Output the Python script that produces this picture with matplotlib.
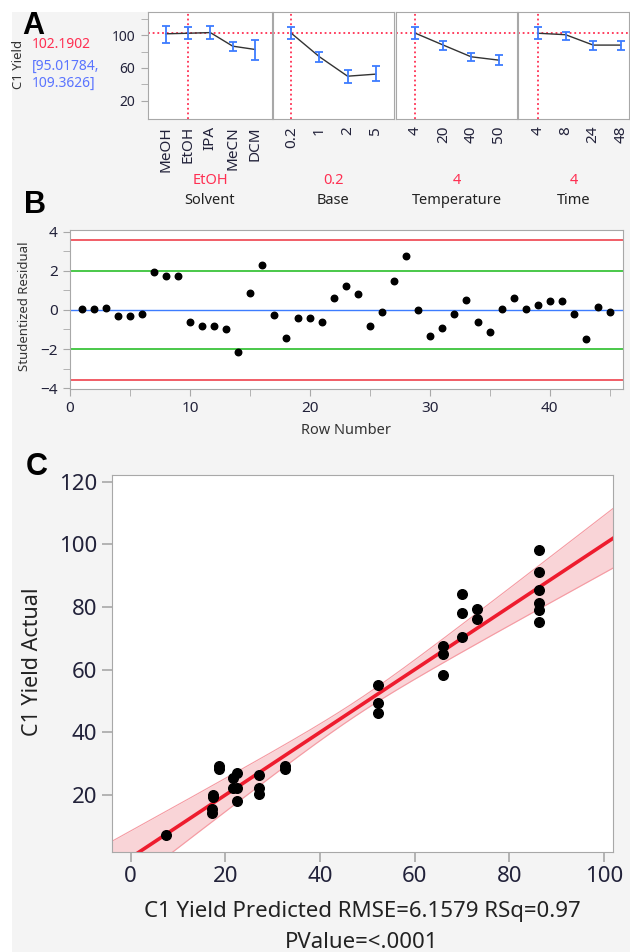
import numpy as np
import matplotlib
matplotlib.use('Agg')
import matplotlib.pyplot as plt
from matplotlib.patches import Rectangle

plt.rcParams['font.family'] = ['Noto Sans', 'DejaVu Sans']

# ---- panel A: prediction profiler ----
current_yield = 102.1902
current_ci = [95.01784, 109.3626]

solvents = ['MeOH', 'EtOH', 'IPA', 'MeCN', 'DCM']
solvent_mean = [101.5, 102.19, 103.0, 86.5, 82.5]
solvent_lo = [90.0, 95.02, 95.5, 81.0, 69.5]
solvent_hi = [111.0, 109.36, 111.0, 91.0, 94.5]

bases = ['0.2', '1', '2', '5']
base_mean = [102.19, 73.6, 50.0, 52.5]
base_lo = [95.02, 66.7, 42.0, 43.6]
base_hi = [109.36, 79.7, 57.0, 61.9]

temps = ['4', '20', '40', '50']
temp_mean = [102.19, 87.8, 73.6, 69.5]
temp_lo = [95.02, 81.7, 68.3, 63.0]
temp_hi = [109.36, 93.0, 78.5, 75.2]

times = ['4', '8', '24', '48']
time_mean = [102.19, 100.4, 87.8, 87.8]
time_lo = [95.02, 93.5, 81.7, 81.7]
time_hi = [109.36, 104.0, 93.0, 93.0]

factor_names = ['Solvent', 'Base', 'Temperature', 'Time']
current_levels = ['EtOH', '0.2', '4', '4']
current_index = [1, 0, 0, 0]

# ---- panel B: studentized residuals ----
row_number = list(range(1, 46))
stud_resid = [0.07, 0.06, 0.11, -0.32, -0.31, -0.20, 1.96, 1.73, 1.73, -0.63,
              -0.82, -0.82, -0.97, -2.16, 0.88, 2.33, -0.26, -1.43, -0.39, -0.39,
              -0.60, 0.61, 1.21, 0.83, -0.80, -0.09, 1.50, 2.79, -0.02, -1.33,
              -0.94, -0.20, 0.51, -0.60, -1.14, 0.03, 0.61, 0.03, 0.27, 0.46,
              0.46, -0.19, -1.48, 0.17, -0.12]
resid_limit = 3.6

# ---- panel C: actual by predicted ----
predicted = [7.4, 17.1, 17.1, 17.4, 17.4, 18.6, 18.6, 21.7, 22.4, 21.7, 22.4, 22.4,
             27.1, 27.1, 27.1, 32.6, 32.6,
             52.2, 52.2, 52.2, 66.0, 66.0, 66.0, 70.0, 70.0, 70.0, 73.1, 73.1,
             86.3, 86.3, 86.3, 86.3, 86.3, 86.3]
actual = [7.2, 14.4, 15.6, 19.3, 20.1, 28.2, 29.3, 25.3, 27.1, 22.1, 22.1, 18.2,
          26.4, 22.1, 20.3, 28.2, 29.3,
          55.1, 49.3, 46.3, 67.4, 65.0, 58.3, 84.2, 78.2, 70.3, 79.3, 76.3,
          98.3, 91.3, 85.3, 81.2, 79.1, 75.2]
band_center = 48.0
band_min = 2.3
band_growth = 0.171

W, H = 630, 952
fig = plt.figure(figsize=(W / 100, H / 100), dpi=100)
fig.patch.set_facecolor('white')
fig.patches.append(Rectangle((12 / W, 0), 1, 1 - 12 / H, transform=fig.transFigure,
                             facecolor='#f4f4f4', edgecolor='none', zorder=-10))

def rect(l, t, r, b):
    return [l / W, 1 - b / H, (r - l) / W, (b - t) / H]

def ftext(x, y, s, **kw):
    return fig.text(x / W, 1 - y / H, s, **kw)

spine_col = '#a8a8a8'
tick_col = '#22223a'
text_col = '#333333'

def style(ax, size):
    for s in ax.spines.values():
        s.set_color(spine_col)
    ax.tick_params(colors=spine_col, labelcolor=tick_col, labelsize=size)
    ax.tick_params(which='minor', colors=spine_col)

# panel A
blue = '#3d7cff'
red = '#ff2f52'
prof = [(solvents, solvent_mean, solvent_lo, solvent_hi, 148, 272, -0.79, 4.76),
        (bases, base_mean, base_lo, base_hi, 273, 394, -0.65, 3.65),
        (temps, temp_mean, temp_lo, temp_hi, 396, 517, -0.7, 3.65),
        (times, time_mean, time_lo, time_hi, 518, 629, -0.73, 3.3)]
for i, (labels, m, lo, hi, l, r, x0, x1) in enumerate(prof):
    ax = fig.add_axes(rect(l, 12, r, 119))
    x = np.arange(len(labels))
    m = np.array(m)
    ax.plot(x, m, color='#333333', lw=1.0, zorder=3)
    ax.errorbar(x, m, yerr=[m - np.array(lo), np.array(hi) - m], fmt='none',
                ecolor=blue, elinewidth=1.3, capsize=3.2, capthick=1.3, zorder=4)
    ax.axhline(current_yield, color=red, ls=(0, (1, 1.6)), lw=1.3, zorder=2)
    ax.axvline(current_index[i], color=red, ls=(0, (1, 1.6)), lw=1.3, zorder=2)
    ax.set_xlim(x0, x1)
    ax.set_ylim(-2, 128)
    ax.set_xticks(x)
    ax.set_xticklabels(labels, rotation=90)
    style(ax, 11)
    ax.tick_params(axis='x', length=0, pad=5)
    if i == 0:
        ax.set_yticks([20, 60, 100])
        ax.set_yticks([40, 80, 120], minor=True)
        ax.tick_params(axis='y', length=5, pad=4, labelsize=10)
        ax.tick_params(axis='y', which='minor', length=5)
    else:
        ax.set_yticks([])
    cx = (l + r) / 2
    ftext(cx, 181, current_levels[i], color=red, fontsize=10.5,
          ha='center', va='center')
    ftext(cx, 200, factor_names[i], color='#222222', fontsize=10.5,
          ha='center', va='center')

ftext(18, 64, 'C1 Yield', rotation=90, fontsize=9.5, color=text_col,
      ha='center', va='center')
ftext(32, 44, f'{current_yield:.4f}', color=red, fontsize=10, va='center')
ftext(32, 66, f'[{current_ci[0]:.5f},', color='#5a74ff', fontsize=10, va='center')
ftext(32, 83, f'{current_ci[1]:.4f}]', color='#5a74ff', fontsize=10, va='center')

letter_font = dict(fontsize=22, fontweight='bold', family='Liberation Sans',
                   ha='left', va='center')
ftext(22, 26, 'A', **letter_font)
ftext(24, 205, 'B', **letter_font)
ftext(26, 467, 'C', **letter_font)

# panel B
axb = fig.add_axes(rect(70, 230, 623, 389))
axb.axhline(resid_limit, color='#f0505a', lw=1.3)
axb.axhline(-resid_limit, color='#f0505a', lw=1.3)
axb.axhline(2, color='#3cc43c', lw=1.3)
axb.axhline(-2, color='#3cc43c', lw=1.3)
axb.axhline(0, color='#3d7cff', lw=1.0)
axb.scatter(row_number, stud_resid, s=22, color='black', zorder=5)
axb.set_xlim(0, 46.1)
axb.set_ylim(-4.05, 4.1)
axb.set_xticks([0, 10, 20, 30, 40])
axb.set_xticks([5, 15, 25, 35, 45], minor=True)
axb.set_yticks([-4, -2, 0, 2, 4])
axb.set_yticks([-3, -1, 1, 3], minor=True)
style(axb, 11)
axb.tick_params(which='both', length=5, pad=4)
ftext(25, 306, 'Studentized Residual', rotation=90, fontsize=9.5, color=text_col,
      ha='center', va='center')
ftext(346, 431, 'Row Number', fontsize=10.5, color=text_col, ha='center', va='center')

# panel C
axc = fig.add_axes(rect(111.7, 475, 613, 851.7))
xx = np.linspace(-4, 101.9, 200)
hw = np.sqrt(band_min ** 2 + (band_growth * (xx - band_center)) ** 2)
axc.fill_between(xx, xx - hw, xx + hw, color='#f9cdd1', alpha=0.85, lw=0)
axc.plot(xx, xx + hw, color='#f59aa2', lw=0.8)
axc.plot(xx, xx - hw, color='#f59aa2', lw=0.8)
axc.plot(xx, xx, color='#ee1c2e', lw=2.6)
axc.scatter(predicted, actual, s=48, color='black', zorder=5)
axc.set_xlim(-4, 101.9)
axc.set_ylim(1.9, 122.1)
axc.set_xticks([0, 20, 40, 60, 80, 100])
axc.set_yticks([20, 40, 60, 80, 100, 120])
style(axc, 16)
axc.tick_params(length=7.5, width=1.2, pad=3)
ftext(33, 662, 'C1 Yield Actual', rotation=90, fontsize=15.5, color='#222222',
      ha='center', va='center')
ftext(362, 911, 'C1 Yield Predicted RMSE=6.1579 RSq=0.97', fontsize=16,
      color='#222222', ha='center', va='center')
ftext(362, 942, 'PValue=<.0001', fontsize=16, color='#222222',
      ha='center', va='center')

fig.savefig('out.png', dpi=100)
